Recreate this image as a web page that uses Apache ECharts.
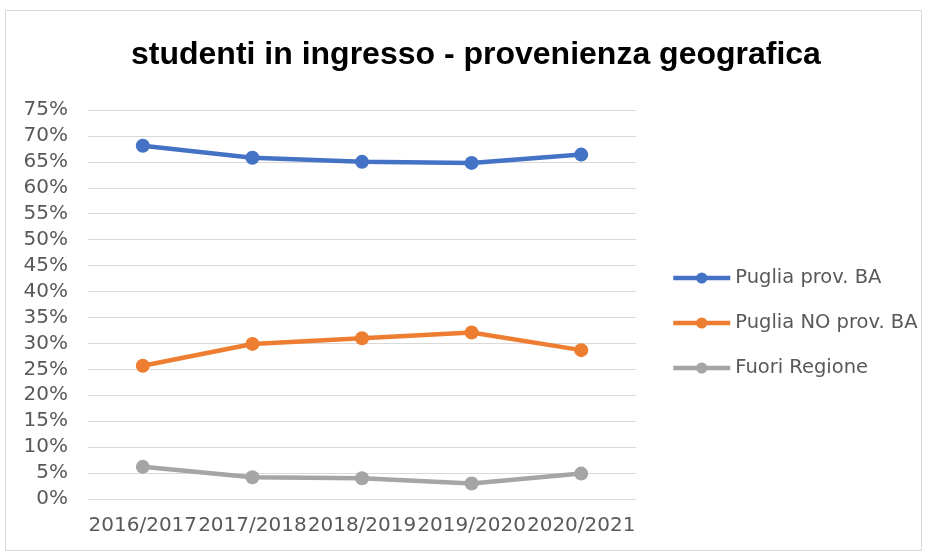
<!DOCTYPE html>
<html>
<head>
<meta charset="utf-8">
<script src="https://cdn.jsdelivr.net/npm/echarts@6/dist/echarts.min.js"></script>
<style>
  html, body { margin: 0; padding: 0; background: #fff; }
  #frame {
    position: absolute; left: 5px; top: 10px; width: 917px; height: 541px;
    border: 1px solid #d9d9d9; box-sizing: border-box;
  }
  #chart { position: absolute; left: 0; top: 0; width: 931px; height: 557px; }
</style>
</head>
<body>
<div id="frame"></div>
<div id="chart"></div>
<script>
// anni accademici
const categories = ['2016/2017', '2017/2018', '2018/2019', '2019/2020', '2020/2021'];
// valori in percentuale
const pugliaProvBA = [68.1, 65.8, 65.0, 64.8, 66.4];
const pugliaNoProvBA = [25.7, 29.9, 31.0, 32.1, 28.7];
const fuoriRegione = [6.2, 4.2, 4.0, 3.0, 4.9];
const yTicks = [0, 5, 10, 15, 20, 25, 30, 35, 40, 45, 50, 55, 60, 65, 70, 75];

const font = 'DejaVu Sans';
const textColor = '#595959';

function lineSeries(name, color, data) {
    return {
        name: name,
        type: 'line',
        data: data,
        symbol: 'circle',
        symbolSize: 14,
        lineStyle: { color: color, width: 4.5 },
        itemStyle: { color: color },
        emphasis: { disabled: true }
    };
}

let myChart = echarts.init(document.getElementById('chart'));
myChart.setOption({
    animation: false,
    title: {
        text: 'studenti in ingresso - provenienza geografica',
        left: 131,
        top: 39,
        padding: 0,
        textStyle: {
            fontFamily: 'Liberation Sans',
            fontWeight: 'bold',
            fontSize: 32,
            color: '#000'
        }
    },
    legend: {
        orient: 'vertical',
        left: 671,
        top: 268,
        padding: 0,
        itemWidth: 57,
        itemHeight: 14,
        itemGap: 25,
        lineStyle: { width: 4.5 },
        textStyle: { fontFamily: font, fontSize: 19.5, color: textColor },
        data: ['Puglia prov. BA', 'Puglia NO prov. BA', 'Fuori Regione']
    },
    grid: {
        left: 88,
        right: 295,
        top: 110,
        bottom: 58
    },
    xAxis: {
        type: 'category',
        data: categories,
        boundaryGap: true,
        axisTick: { show: false },
        axisLine: { lineStyle: { color: '#d9d9d9', width: 1 } },
        axisLabel: {
            margin: 17,
            fontFamily: font,
            fontSize: 20,
            color: textColor,
            interval: 0
        }
    },
    yAxis: {
        type: 'value',
        min: yTicks[0],
        max: yTicks[yTicks.length - 1],
        interval: 5,
        axisLine: { show: false },
        axisTick: { show: false },
        splitLine: { lineStyle: { color: '#d9d9d9', width: 1 } },
        axisLabel: {
            margin: 20,
            fontFamily: font,
            fontSize: 20,
            color: textColor,
            formatter: '{value}%'
        }
    },
    series: [
        lineSeries('Puglia prov. BA', '#4472C4', pugliaProvBA),
        lineSeries('Puglia NO prov. BA', '#ED7D31', pugliaNoProvBA),
        lineSeries('Fuori Regione', '#A5A5A5', fuoriRegione)
    ]
});

window.addEventListener('resize', function () {
    myChart.resize();
});
</script>
</body>
</html>
